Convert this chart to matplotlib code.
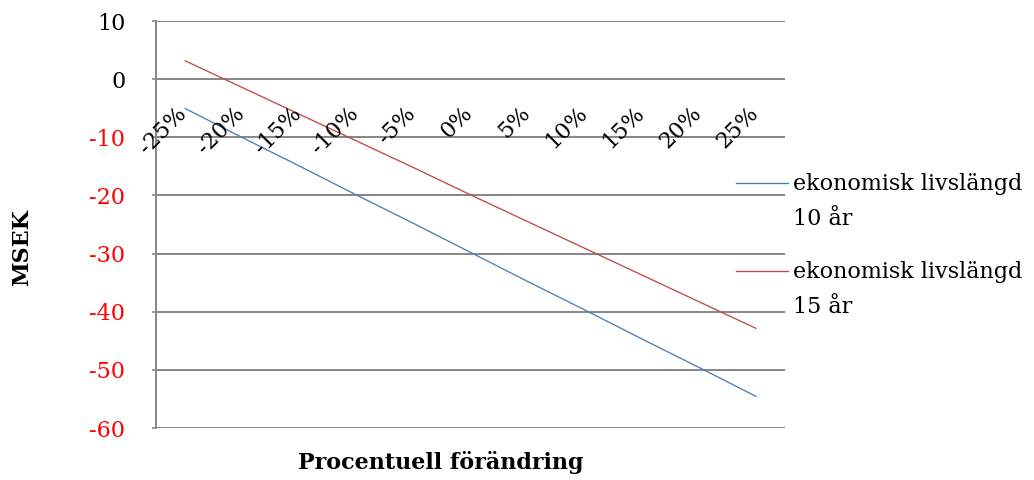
import matplotlib
matplotlib.use("Agg")
import matplotlib.pyplot as plt
from matplotlib.lines import Line2D
import matplotlib.transforms as mtransforms

categories = ["-25%", "-20%", "-15%", "-10%", "-5%", "0%", "5%", "10%", "15%", "20%", "25%"]
series_names = ["ekonomisk livslängd\n10 år", "ekonomisk livslängd\n15 år"]
livslangd_10 = [-5.0, -10.0, -14.9, -19.9, -24.8, -29.8, -34.8, -39.7, -44.7, -49.6, -54.6]
livslangd_15 = [3.2, -1.4, -6.0, -10.6, -15.2, -19.9, -24.5, -29.1, -33.7, -38.3, -42.9]
y_ticks = [10, 0, -10, -20, -30, -40, -50, -60]
colors = ["#4A7EBB", "#BE4B48"]

plt.rcParams["font.family"] = ["DejaVu Serif"]
FS = 16

W, H = 1034, 480
fig = plt.figure(figsize=(W / 100, H / 100), dpi=100)
ax = fig.add_axes([156 / W, 1 - 428 / H, (785 - 156) / W, (428 - 21) / H])

x = list(range(len(categories)))
for vals, c in zip([livslangd_10, livslangd_15], colors):
    ax.plot(x, vals, color=c, lw=0.95, solid_capstyle="butt")

ax.set_xlim(-0.5, len(categories) - 0.5)
ax.set_ylim(-60, 10)
ax.set_yticks(y_ticks)
ax.set_yticklabels([str(v) for v in y_ticks], fontsize=FS)
for lab, v in zip(ax.get_yticklabels(), y_ticks):
    lab.set_color("red" if v < 0 else "black")
ax.tick_params(axis="y", direction="out", length=3, width=1.2, color="#868686", pad=19)
ax.set_xticks([])
for v in y_ticks:
    ax.axhline(v, color="#868686", lw=1.4, zorder=0.5)
for s in ["top", "right", "bottom"]:
    ax.spines[s].set_visible(False)
ax.spines["left"].set_color("#868686")
ax.spines["left"].set_linewidth(1.4)

# category labels along the horizontal axis at y = 0
off = mtransforms.offset_copy(ax.transData, fig=fig, x=-1, y=-31, units="dots")
for i, lab in enumerate(categories):
    ax.text(i, 0, lab, transform=off, rotation=45, rotation_mode="anchor",
            ha="right", va="center", fontsize=FS, clip_on=False)

# legend
legend_y = [183, 271]
for name, c, ly in zip(series_names, colors, legend_y):
    fig.add_artist(Line2D([736 / W, 788 / W], [1 - ly / H, 1 - ly / H],
                          transform=fig.transFigure, color=c, lw=0.95))
    fig.text(793 / W, 1 - (ly - 10) / H, name, fontsize=FS, va="top", ha="left",
             linespacing=1.75)

fig.text(22 / W, 1 - 248 / H, "MSEK", rotation=90, fontsize=FS, fontweight="bold",
         ha="center", va="center")
fig.text(441 / W, 1 - 463 / H, "Procentuell förändring", fontsize=FS, fontweight="bold",
         ha="center", va="center")

fig.savefig("out.png", dpi=100)
